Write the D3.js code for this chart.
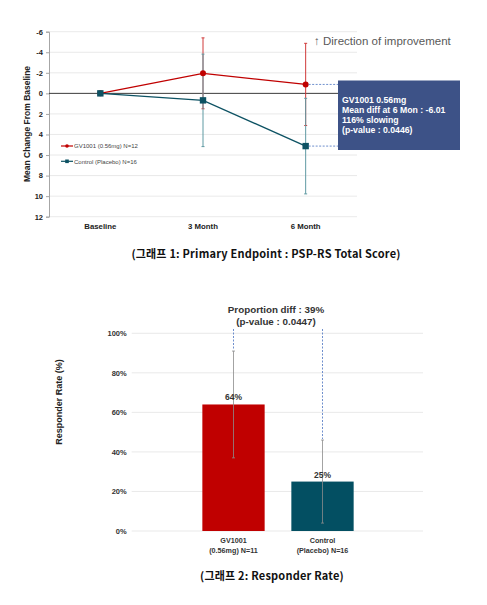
<!DOCTYPE html>
<html>
<head>
<meta charset="utf-8">
<script src="https://cdn.jsdelivr.net/npm/d3@7"></script>
<style>
  body { margin: 0; background: #fff; }
  svg { display: block; font-family: "Liberation Sans", Arial, sans-serif; }
</style>
</head>
<body>
<div id="chart"></div>
<script>
// Chart 1 data: mean change from baseline (PSP-RS total score)
var timepoints = ["Baseline", "3 Month", "6 Month"];
var gvMean = [0, -1.95, -0.87];
var gvErr = [0, 3.45, 4.0];
var pboMean = [0, 0.68, 5.13];
var pboErr = [0, 4.5, 4.65];
var yTicks1 = [-6, -4, -2, 0, 2, 4, 6, 8, 10, 12];
var boxLines = ["GV1001 0.56mg", "Mean diff at 6 Mon : -6.01", "116% slowing", "(p-value : 0.0446)"];

// Chart 2 data: responder rate
var groups = ["GV1001", "Control"];
var groupLabels = [["GV1001", "(0.56mg) N=11"], ["Control", "(Placebo) N=16"]];
var rates = [0.64, 0.25];
var rateLow = [0.37, 0.04];
var rateHigh = [0.91, 0.46];
var yTicks2 = [0, 0.2, 0.4, 0.6, 0.8, 1.0];

var red = "#c00000";
var teal = "#0d5263";

var svg = d3.select("#chart").append("svg").attr("width", 487).attr("height", 605);

// ---------- Chart 1 ----------
var x1 = d3.scalePoint().domain(timepoints).range([49, 357]).padding(0.5);
var y1 = d3.scaleLinear().domain([-6, 12]).range([31.7, 216.7]);
var g1 = svg.append("g");

g1.selectAll(".grid1").data(yTicks1.filter(d => d !== 0)).enter().append("line")
  .attr("x1", 49).attr("x2", 357)
  .attr("y1", d => y1(d)).attr("y2", d => y1(d))
  .attr("stroke", "#e3e3e3").attr("stroke-width", 0.8);

var yAxis1 = d3.axisLeft(y1).tickValues(yTicks1).tickFormat(d => String(d)).tickSize(3).tickPadding(3);
var ya1 = g1.append("g").attr("transform", "translate(49,0)").call(yAxis1);
ya1.select(".domain").attr("stroke", "#a6a6a6");
ya1.selectAll(".tick line").attr("stroke", "#a6a6a6");
ya1.selectAll("text").attr("font-size", "7.5px").attr("font-weight", "bold").attr("fill", "#222")
  .attr("font-family", "Liberation Sans, Arial, sans-serif");

// zero line
g1.append("line").attr("x1", 49).attr("x2", 357).attr("y1", y1(0)).attr("y2", y1(0))
  .attr("stroke", "#3a3a3a").attr("stroke-width", 1);

// x labels
g1.selectAll(".xl1").data(timepoints).enter().append("text")
  .attr("x", d => x1(d)).attr("y", 229)
  .attr("text-anchor", "middle").attr("font-size", "7.8px").attr("font-weight", "bold").attr("fill", "#222")
  .text(d => d);

// y title
g1.append("text").attr("transform", "translate(30,124) rotate(-90)")
  .attr("text-anchor", "middle").attr("font-size", "8.5px").attr("font-weight", "bold").attr("fill", "#222")
  .text("Mean Change From Baseline");

// error bars
function errBars(mean, err, color, cls) {
  var idx = d3.range(1, timepoints.length);
  g1.selectAll("." + cls + "v").data(idx).enter().append("line")
    .attr("x1", i => x1(timepoints[i])).attr("x2", i => x1(timepoints[i]))
    .attr("y1", i => y1(mean[i] - err[i])).attr("y2", i => y1(mean[i] + err[i]))
    .attr("stroke", color).attr("stroke-width", 1);
  [-1, 1].forEach(function(s) {
    g1.selectAll("." + cls + "c" + s).data(idx).enter().append("line")
      .attr("x1", i => x1(timepoints[i]) - 1.5).attr("x2", i => x1(timepoints[i]) + 1.5)
      .attr("y1", i => y1(mean[i] + s * err[i])).attr("y2", i => y1(mean[i] + s * err[i]))
      .attr("stroke", color).attr("stroke-width", 1);
  });
}
errBars(gvMean, gvErr, "#d03a3a", "gve");
errBars(pboMean, pboErr, "#5f9aa3", "pbe");

// lines
var line1 = d3.line().x((d, i) => x1(timepoints[i])).y(d => y1(d));
g1.append("path").datum(gvMean).attr("d", line1).attr("fill", "none").attr("stroke", red).attr("stroke-width", 1.3);
g1.append("path").datum(pboMean).attr("d", line1).attr("fill", "none").attr("stroke", teal).attr("stroke-width", 1.3);

// markers
g1.selectAll(".gvm").data(gvMean).enter().append("circle")
  .attr("cx", (d, i) => x1(timepoints[i])).attr("cy", d => y1(d)).attr("r", 3).attr("fill", red);
g1.selectAll(".pbm").data(pboMean).enter().append("rect")
  .attr("x", (d, i) => x1(timepoints[i]) - 3.2).attr("y", d => y1(d) - 3.2)
  .attr("width", 6.4).attr("height", 6.4).attr("fill", teal);

// dashed connectors to the box
var last = timepoints.length - 1;
[gvMean[last], pboMean[last]].forEach(function(v) {
  g1.append("line").attr("x1", x1(timepoints[last]) + 3).attr("x2", 338)
    .attr("y1", y1(v)).attr("y2", y1(v))
    .attr("stroke", "#4a72c0").attr("stroke-width", 0.8).attr("stroke-dasharray", "2,1.5");
});

// annotation box
g1.append("rect").attr("x", 338).attr("y", 80.5).attr("width", 122).attr("height", 69.5).attr("fill", "#3d5287");
g1.selectAll(".boxt").data(boxLines).enter().append("text")
  .attr("x", 342).attr("y", (d, i) => 103 + i * 10)
  .attr("font-size", "8.7px").attr("font-weight", "bold").attr("fill", "#fff")
  .text(d => d);

// direction of improvement
g1.append("text").attr("x", 314).attr("y", 45).attr("font-size", "11.5px").attr("fill", "#595959")
  .text("\u2191 Direction of improvement");

// legend
var leg = [{name: "GV1001 (0.56mg) N=12", color: red, shape: "circle", y: 146},
           {name: "Control (Placebo) N=16", color: teal, shape: "square", y: 161.3}];
leg.forEach(function(l) {
  g1.append("line").attr("x1", 61).attr("x2", 73).attr("y1", l.y).attr("y2", l.y)
    .attr("stroke", l.color).attr("stroke-width", 1.2);
  if (l.shape === "circle") {
    g1.append("circle").attr("cx", 67).attr("cy", l.y).attr("r", 1.8).attr("fill", l.color);
  } else {
    g1.append("rect").attr("x", 65.2).attr("y", l.y - 1.8).attr("width", 3.6).attr("height", 3.6).attr("fill", l.color);
  }
  g1.append("text").attr("x", 74).attr("y", l.y + 2.2).attr("font-size", "6px").attr("fill", "#444").text(l.name);
});

// caption 1
svg.append("text").attr("x", 266).attr("y", 258).attr("text-anchor", "middle")
  .attr("font-family", "Noto Sans CJK KR, sans-serif").attr("font-size", "11px").attr("font-weight", "bold").attr("fill", "#111")
  .attr("letter-spacing", "0.2px")
  .text("(그래프  1: Primary Endpoint : PSP-RS Total Score)");

// ---------- Chart 2 ----------
var x2 = d3.scaleBand().domain(groups).range([189, 367]).paddingInner(0.3).paddingOuter(0.15);
var y2 = d3.scaleLinear().domain([0, 1]).range([531, 333.3]);
var g2 = svg.append("g");

g2.selectAll(".grid2").data(yTicks2).enter().append("line")
  .attr("x1", 131.7).attr("x2", 423)
  .attr("y1", d => y2(d)).attr("y2", d => y2(d))
  .attr("stroke", "#e3e3e3").attr("stroke-width", 0.8);

var yAxis2 = d3.axisLeft(y2).tickValues(yTicks2).tickFormat(d3.format(".0%")).tickSize(0).tickPadding(5);
var ya2 = g2.append("g").attr("transform", "translate(131.7,0)").call(yAxis2);
ya2.select(".domain").remove();
ya2.selectAll("text").attr("font-size", "7.5px").attr("font-weight", "bold").attr("fill", "#333")
  .attr("font-family", "Liberation Sans, Arial, sans-serif");

g2.append("text").attr("transform", "translate(62,402) rotate(-90)")
  .attr("text-anchor", "middle").attr("font-size", "9px").attr("font-weight", "bold").attr("fill", "#222")
  .text("Responder Rate (%)");

var barColors = [red, "#034f62"];
g2.selectAll(".bar").data(rates).enter().append("rect")
  .attr("x", (d, i) => x2(groups[i])).attr("y", d => y2(d))
  .attr("width", x2.bandwidth()).attr("height", d => y2(0) - y2(d))
  .attr("fill", (d, i) => barColors[i]);

// error bars
var cx2 = i => x2(groups[i]) + x2.bandwidth() / 2;
g2.selectAll(".eb2").data(rates).enter().append("line")
  .attr("x1", (d, i) => cx2(i)).attr("x2", (d, i) => cx2(i))
  .attr("y1", (d, i) => y2(rateHigh[i])).attr("y2", (d, i) => y2(rateLow[i]))
  .attr("stroke", "#8c8c8c").attr("stroke-width", 0.8);
[rateHigh, rateLow].forEach(function(arr) {
  g2.selectAll(".cap").data(arr).enter().append("line")
    .attr("x1", (d, i) => cx2(i) - 1.5).attr("x2", (d, i) => cx2(i) + 1.5)
    .attr("y1", d => y2(d)).attr("y2", d => y2(d))
    .attr("stroke", "#8c8c8c").attr("stroke-width", 0.8);
});

// value labels
g2.selectAll(".vl").data(rates).enter().append("text")
  .attr("x", (d, i) => cx2(i)).attr("y", d => y2(d) - 4)
  .attr("text-anchor", "middle").attr("font-size", "8.5px").attr("font-weight", "bold").attr("fill", "#333")
  .text(d => d3.format(".0%")(d));

// dashed lines to proportion diff
g2.selectAll(".dl").data(rateHigh).enter().append("line")
  .attr("x1", (d, i) => cx2(i)).attr("x2", (d, i) => cx2(i))
  .attr("y1", 329).attr("y2", d => y2(d) - 1)
  .attr("stroke", "#4a72c0").attr("stroke-width", 0.8).attr("stroke-dasharray", "2,1.5");

g2.append("text").attr("x", 276).attr("y", 313).attr("text-anchor", "middle")
  .attr("font-size", "9.8px").attr("font-weight", "bold").attr("fill", "#333").text("Proportion diff : 39%");
g2.append("text").attr("x", 276).attr("y", 325).attr("text-anchor", "middle")
  .attr("font-size", "9.8px").attr("font-weight", "bold").attr("fill", "#333").text("(p-value : 0.0447)");

// x labels
groupLabels.forEach(function(lines, i) {
  lines.forEach(function(t, j) {
    g2.append("text").attr("x", cx2(i)).attr("y", 543 + j * 9.5)
      .attr("text-anchor", "middle").attr("font-size", "7.2px").attr("font-weight", "bold").attr("fill", "#333")
      .text(t);
  });
});

// caption 2
svg.append("text").attr("x", 272).attr("y", 580).attr("text-anchor", "middle")
  .attr("font-family", "Noto Sans CJK KR, sans-serif").attr("font-size", "11px").attr("font-weight", "bold").attr("fill", "#111")
  .attr("letter-spacing", "0.2px")
  .text("(그래프  2: Responder Rate)");
</script>
</body>
</html>
